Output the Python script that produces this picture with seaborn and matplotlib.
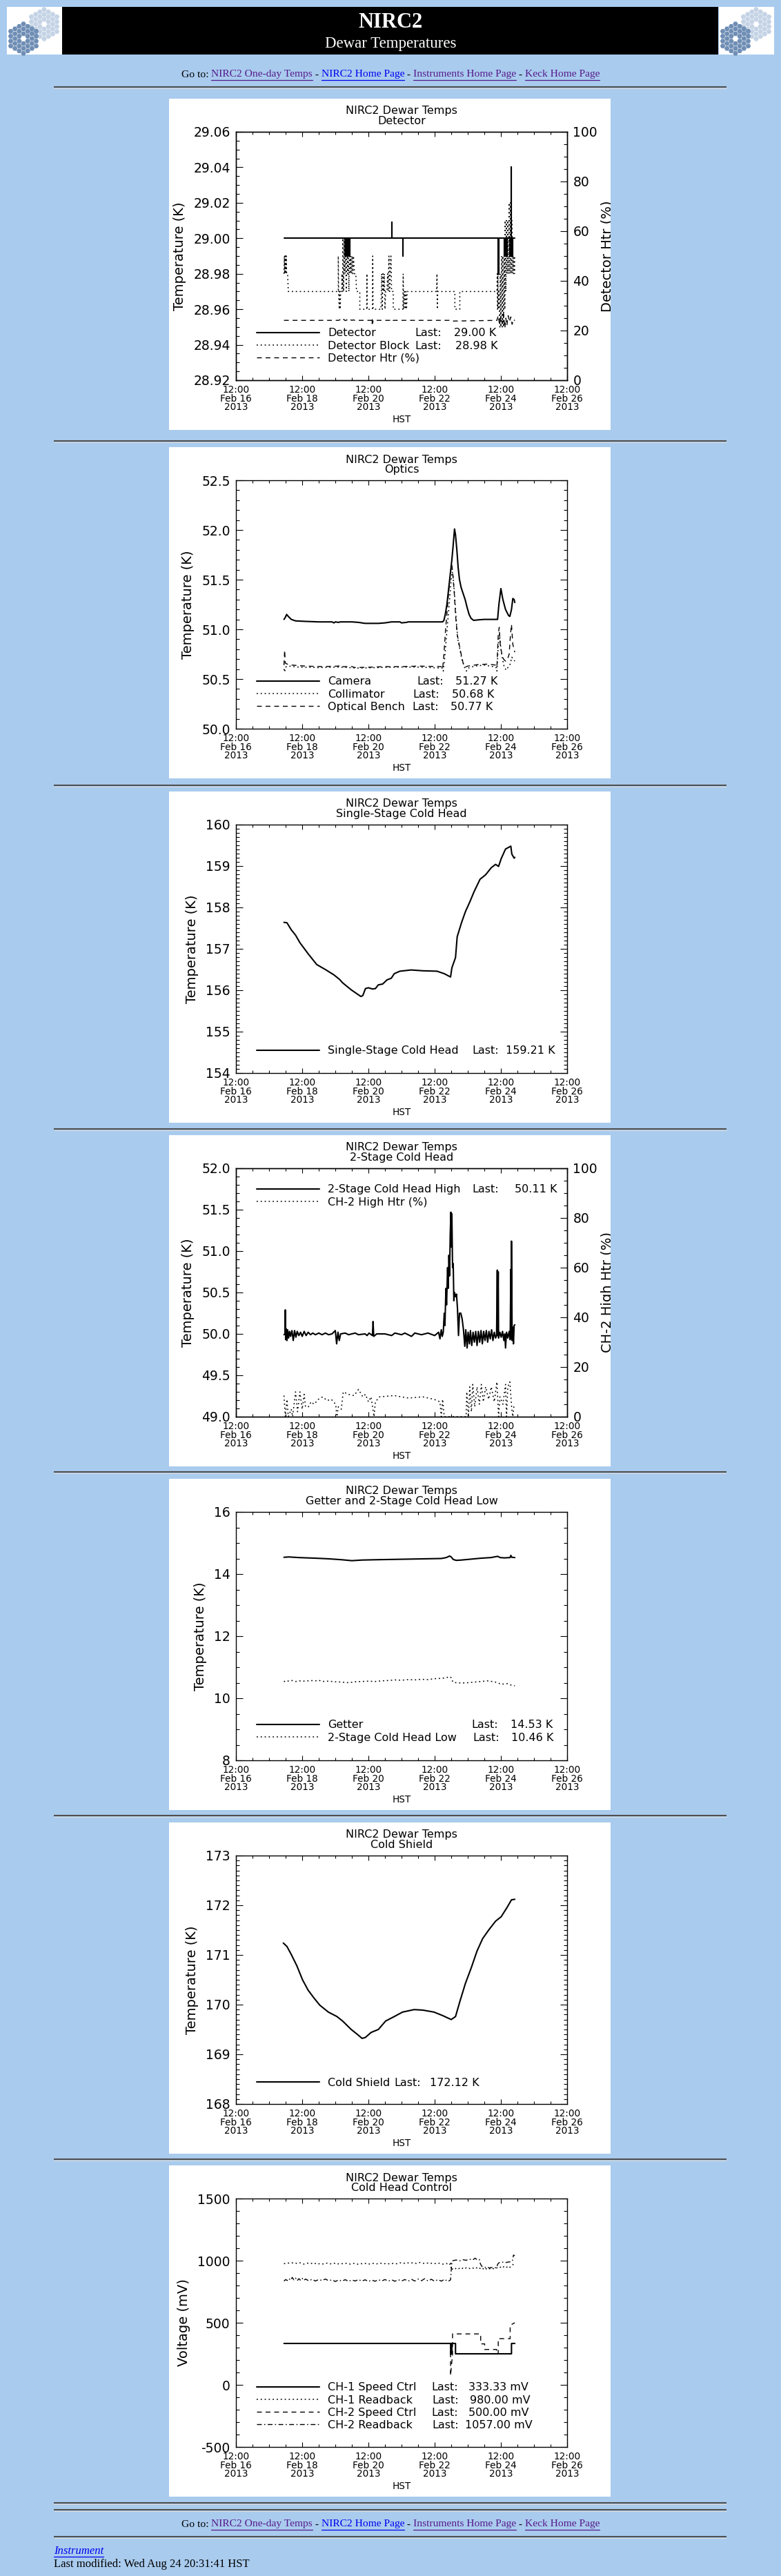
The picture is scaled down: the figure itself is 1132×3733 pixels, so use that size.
import numpy as np
import pandas as pd
import matplotlib
matplotlib.use("Agg")
import matplotlib.pyplot as plt
import seaborn as sns
from matplotlib.lines import Line2D
from matplotlib.patches import Rectangle, RegularPolygon
from matplotlib.ticker import FixedLocator, MultipleLocator, FormatStrFormatter

# ============================ DATA ============================
# x values are HST day-of-February 2013 (e.g. 17.95 = Feb 17 ~22:50)
X_TICKS = [16.5, 18.5, 20.5, 22.5, 24.5, 26.5]
X_TICK_LABELS = ["12:00\nFeb 16\n2013", "12:00\nFeb 18\n2013", "12:00\nFeb 20\n2013",
                 "12:00\nFeb 22\n2013", "12:00\nFeb 24\n2013", "12:00\nFeb 26\n2013"]

# --- chart 1: Detector ---
detector_pts = [
    (17.95, 29.00),
    (19.80, 29.00), (19.80, 28.99), (19.80, 29.00),
    (19.82, 29.00), (19.82, 28.99), (19.82, 29.00),
    (19.84, 29.00), (19.84, 28.99), (19.84, 29.00),
    (19.86, 29.00), (19.86, 28.99), (19.86, 29.00),
    (19.88, 29.00), (19.88, 28.99), (19.88, 29.00),
    (19.90, 29.00), (19.90, 28.99), (19.90, 29.00),
    (19.92, 29.00), (19.92, 28.99), (19.92, 29.00),
    (19.94, 29.00), (19.94, 28.99), (19.94, 29.00),
    (21.21, 29.00), (21.21, 29.009), (21.21, 29.00),
    (21.55, 29.00), (21.55, 28.99), (21.55, 29.00),
    (24.42, 29.00), (24.42, 28.98), (24.42, 29.00),
    (24.43, 29.00), (24.43, 28.98), (24.43, 29.00),
    (24.60, 29.00), (24.60, 28.99), (24.60, 29.00),
    (24.62, 29.00), (24.62, 28.99), (24.62, 29.00),
    (24.66, 29.00), (24.66, 28.99), (24.66, 29.00),
    (24.68, 29.00), (24.68, 28.99), (24.68, 29.00),
    (24.78, 29.00), (24.78, 28.99), (24.78, 29.00),
    (24.80, 29.00), (24.80, 28.99), (24.80, 29.00),
    (24.82, 29.00), (24.82, 29.04), (24.82, 28.99), (24.82, 29.00),
    (24.84, 29.00), (24.84, 28.99), (24.84, 29.00),
    (24.86, 29.00), (24.86, 28.99), (24.86, 29.00),
    (24.92, 29.00),
]
det_block_pts = [
    (17.95, 28.98), (17.96, 28.99), (17.97, 28.98), (17.98, 28.99), (17.99, 28.98),
    (18.00, 28.99), (18.01, 28.98), (18.02, 28.99), (18.03, 28.98), (18.06, 28.98),
    (18.08, 28.97), (19.59, 28.97), (19.59, 28.99), (19.60, 28.97), (19.62, 28.96),
    (19.63, 28.97), (19.65, 28.96), (19.66, 28.97), (19.70, 28.97), (19.70, 28.98),
    (19.72, 28.97), (19.73, 29.00), (19.75, 28.97), (19.77, 29.00), (19.79, 28.98),
    (19.81, 29.00), (19.83, 28.97), (19.85, 29.00), (19.87, 28.98), (19.89, 29.00),
    (19.91, 28.97), (19.93, 29.00), (19.95, 28.98), (19.97, 28.99), (19.99, 28.98),
    (20.01, 28.99), (20.03, 28.98), (20.05, 28.99), (20.08, 28.98), (20.12, 28.98),
    (20.14, 28.97), (20.24, 28.97), (20.24, 28.96), (20.45, 28.96), (20.455, 28.98),
    (20.46, 28.96), (20.62, 28.96), (20.63, 28.99), (20.64, 28.96), (20.88, 28.96),
    (20.90, 28.98), (20.92, 28.96), (20.94, 28.98), (20.96, 28.97), (20.98, 28.98),
    (21.00, 28.96), (21.02, 28.97), (21.06, 28.97), (21.08, 28.98), (21.10, 28.97),
    (21.12, 28.99), (21.14, 28.97), (21.16, 28.98), (21.18, 28.99), (21.20, 28.97),
    (21.25, 28.97), (21.25, 28.96), (21.54, 28.96), (21.55, 28.98), (21.56, 28.96),
    (21.59, 28.97), (21.61, 28.96), (21.63, 28.97), (21.65, 28.96), (21.67, 28.97),
    (22.56, 28.97), (22.57, 28.98), (22.58, 28.96), (22.59, 28.97), (23.11, 28.97),
    (23.11, 28.96), (23.26, 28.96), (23.26, 28.97), (24.38, 28.97), (24.39, 28.98),
    (24.40, 28.96), (24.41, 28.98), (24.42, 28.96), (24.44, 28.97), (24.47, 28.95),
    (24.48, 28.98), (24.50, 28.95), (24.52, 28.99), (24.54, 28.95), (24.56, 28.99),
    (24.58, 28.95), (24.60, 28.99), (24.62, 28.96), (24.63, 29.01), (24.65, 28.97),
    (24.67, 29.01), (24.69, 28.98), (24.71, 29.01), (24.73, 28.98), (24.75, 29.02),
    (24.77, 28.98), (24.79, 29.02), (24.81, 28.98), (24.83, 29.01), (24.85, 28.98),
    (24.87, 28.99), (24.89, 28.98), (24.91, 28.99), (24.92, 28.98),
]
det_htr_pts = [
    (17.95, 24.1), (19.60, 24.1), (19.65, 24.4), (19.70, 23.9), (19.75, 24.5),
    (19.80, 24.0), (19.85, 24.3), (19.90, 23.9), (19.95, 24.4), (20.00, 24.1),
    (20.05, 24.3), (20.10, 24.0), (20.20, 24.1), (20.60, 24.1), (20.61, 22.5),
    (20.62, 25.0), (20.63, 23.0), (20.64, 24.1), (21.20, 24.1), (21.22, 24.5),
    (21.24, 24.1), (22.95, 24.1), (22.98, 23.8), (24.38, 24.1), (24.42, 26.0),
    (24.46, 22.5), (24.50, 25.5), (24.55, 23.0), (24.58, 26.5), (24.62, 21.0),
    (24.65, 25.0), (24.68, 22.0), (24.72, 26.0), (24.76, 23.5), (24.80, 25.5),
    (24.84, 22.5), (24.88, 24.5), (24.92, 24.0),
]
c1_names = ["Detector", "Detector Block", "Detector Htr (%)"]
c1_last = ["29.00 K", "28.98 K", None]

# --- chart 2: Optics ---
camera_pts = [
    (17.95, 51.10), (17.99, 51.12), (18.03, 51.15), (18.08, 51.13), (18.17, 51.10),
    (18.30, 51.085), (18.60, 51.08), (19.00, 51.075), (19.40, 51.075), (19.46, 51.065),
    (19.50, 51.075), (19.60, 51.07), (19.65, 51.075), (20.00, 51.075), (20.20, 51.07),
    (20.40, 51.06), (20.80, 51.06), (21.00, 51.065), (21.20, 51.075), (21.45, 51.075),
    (21.50, 51.065), (21.65, 51.07), (21.70, 51.075), (22.74, 51.075), (22.78, 51.09),
    (22.82, 51.15), (22.87, 51.25), (22.92, 51.40), (22.97, 51.55), (23.02, 51.70),
    (23.06, 51.85), (23.10, 52.01), (23.13, 51.95), (23.17, 51.80), (23.21, 51.62),
    (23.25, 51.50), (23.30, 51.42), (23.36, 51.36), (23.42, 51.30), (23.48, 51.22),
    (23.54, 51.15), (23.60, 51.11), (23.68, 51.09), (23.80, 51.095), (24.00, 51.10),
    (24.20, 51.10), (24.40, 51.10), (24.44, 51.25), (24.50, 51.41), (24.56, 51.30),
    (24.64, 51.20), (24.73, 51.14), (24.77, 51.13), (24.82, 51.20), (24.86, 51.31),
    (24.90, 51.30), (24.92, 51.27),
]
collimator_pts = [
    (17.95, 50.60), (17.97, 50.57), (18.00, 50.62), (18.10, 50.63), (18.40, 50.62),
    (19.00, 50.615), (19.60, 50.62), (20.20, 50.61), (20.80, 50.615), (21.40, 50.62),
    (22.00, 50.62), (22.74, 50.61), (22.76, 50.58), (22.80, 50.70), (22.85, 50.90),
    (22.90, 51.10), (22.95, 51.30), (23.00, 51.50), (23.03, 51.58), (23.06, 51.52),
    (23.10, 51.35), (23.15, 51.10), (23.20, 50.90), (23.26, 50.80), (23.32, 50.70),
    (23.40, 50.62), (23.46, 50.58), (23.52, 50.61), (23.70, 50.63), (24.00, 50.64),
    (24.35, 50.62), (24.38, 50.58), (24.42, 50.85), (24.46, 50.95), (24.50, 50.80),
    (24.55, 50.70), (24.60, 50.62), (24.66, 50.59), (24.72, 50.62), (24.78, 50.65),
    (24.83, 50.72), (24.87, 50.70), (24.92, 50.68),
]
bench_pts = [
    (17.95, 50.64), (17.97, 50.79), (17.99, 50.66), (18.05, 50.65), (18.20, 50.64),
    (18.60, 50.63), (19.10, 50.625), (19.60, 50.63), (19.65, 50.64), (19.70, 50.625),
    (20.00, 50.625), (20.10, 50.615), (20.60, 50.62), (21.00, 50.625), (21.50, 50.625),
    (22.00, 50.63), (22.70, 50.625), (22.74, 50.60), (22.78, 50.75), (22.83, 51.00),
    (22.88, 51.20), (22.93, 51.40), (22.98, 51.58), (23.02, 51.65), (23.05, 51.55),
    (23.09, 51.38), (23.13, 51.15), (23.18, 50.95), (23.24, 50.85), (23.30, 50.75),
    (23.36, 50.66), (23.42, 50.62), (23.50, 50.63), (23.80, 50.645), (24.10, 50.65),
    (24.35, 50.64), (24.38, 50.62), (24.42, 50.95), (24.45, 51.02), (24.48, 50.85),
    (24.53, 50.75), (24.58, 50.70), (24.64, 50.68), (24.70, 50.70), (24.75, 50.75),
    (24.79, 50.95), (24.82, 51.05), (24.86, 50.85), (24.92, 50.77),
]
c2_names = ["Camera", "Collimator", "Optical Bench"]
c2_last = ["51.27 K", "50.68 K", "50.77 K"]

# --- chart 3: Single-Stage Cold Head ---
single_pts = [
    (17.95, 157.64), (18.04, 157.63), (18.17, 157.46), (18.30, 157.33), (18.43, 157.15),
    (18.68, 156.88), (18.94, 156.62), (19.20, 156.50), (19.46, 156.37), (19.63, 156.26),
    (19.72, 156.18), (19.98, 156.01), (20.27, 155.85), (20.33, 155.87), (20.41, 156.04),
    (20.50, 156.06), (20.62, 156.03), (20.71, 156.04), (20.80, 156.13), (20.93, 156.15),
    (21.06, 156.25), (21.19, 156.29), (21.28, 156.40), (21.45, 156.46), (21.79, 156.49),
    (22.14, 156.47), (22.57, 156.46), (22.79, 156.40), (22.98, 156.32), (23.02, 156.54),
    (23.13, 156.79), (23.18, 157.29), (23.31, 157.63), (23.43, 157.90), (23.56, 158.13),
    (23.69, 158.38), (23.87, 158.68), (24.04, 158.79), (24.21, 158.96), (24.34, 159.04),
    (24.43, 158.99), (24.51, 159.18), (24.64, 159.41), (24.80, 159.48), (24.83, 159.29),
    (24.90, 159.19), (24.92, 159.21),
]
c3_names = ["Single-Stage Cold Head"]
c3_last = ["159.21 K"]

# --- chart 4: 2-Stage Cold Head ---
ch_high_pts = [
    (17.95, 49.99), (17.98, 50.00), (17.99, 50.29), (18.00, 49.93), (18.02, 50.06),
    (18.04, 49.92), (18.06, 50.05), (18.09, 49.95), (18.12, 50.03), (18.15, 49.97),
    (18.19, 50.04), (18.23, 49.92), (18.27, 50.04), (18.31, 49.96), (18.35, 50.03),
    (18.40, 49.98), (18.45, 50.02), (18.50, 49.97), (18.56, 50.03), (18.62, 49.98),
    (18.68, 50.02), (18.75, 49.99), (18.82, 50.01), (18.90, 49.99), (19.00, 50.01),
    (19.10, 49.99), (19.20, 50.01), (19.30, 49.99), (19.40, 50.00), (19.50, 50.04),
    (19.54, 49.88), (19.58, 50.02), (19.62, 49.92), (19.66, 50.00), (19.80, 50.01),
    (19.90, 49.99), (20.00, 50.00), (20.10, 50.01), (20.20, 49.99), (20.40, 50.00),
    (20.46, 49.98), (20.52, 50.01), (20.62, 49.98), (20.64, 50.15), (20.66, 49.97),
    (20.75, 50.00), (21.00, 50.00), (21.20, 49.98), (21.30, 50.01), (21.50, 49.99),
    (21.60, 50.01), (21.80, 49.97), (21.90, 50.01), (22.10, 49.99), (22.30, 50.01),
    (22.50, 49.98), (22.62, 50.02), (22.66, 49.94), (22.70, 50.05), (22.73, 49.97),
    (22.76, 50.02), (22.79, 50.25), (22.81, 50.10), (22.84, 50.55), (22.86, 50.35),
    (22.89, 50.80), (22.91, 50.55), (22.93, 50.95), (22.95, 50.70), (22.97, 51.20),
    (22.99, 51.47), (23.00, 51.05), (23.02, 51.45), (23.04, 50.80), (23.06, 50.85),
    (23.08, 50.40), (23.10, 50.50), (23.13, 50.45), (23.16, 50.48), (23.19, 50.30),
    (23.22, 49.98), (23.25, 50.25), (23.29, 50.25), (23.33, 50.18), (23.37, 50.05),
    (23.41, 49.85), (23.44, 50.05), (23.48, 49.83), (23.51, 50.02), (23.55, 49.88),
    (23.58, 50.04), (23.62, 49.86), (23.66, 50.02), (23.70, 49.90), (23.74, 50.03),
    (23.78, 49.86), (23.82, 50.03), (23.86, 49.90), (23.90, 50.04), (23.94, 49.88),
    (23.98, 50.03), (24.02, 49.92), (24.06, 50.04), (24.10, 49.90), (24.14, 50.03),
    (24.18, 49.94), (24.22, 50.05), (24.26, 49.92), (24.30, 50.02), (24.34, 49.95),
    (24.37, 49.98), (24.39, 50.77), (24.40, 49.98), (24.42, 50.75), (24.43, 49.95),
    (24.47, 50.02), (24.51, 49.96), (24.55, 50.03), (24.59, 49.92), (24.62, 50.00),
    (24.64, 49.83), (24.67, 50.02), (24.71, 49.95), (24.75, 50.03), (24.78, 49.93),
    (24.80, 50.78), (24.81, 49.95), (24.82, 51.12), (24.84, 49.92), (24.86, 50.08),
    (24.88, 49.88), (24.90, 50.10), (24.92, 50.11),
]
ch_htr_pts = [
    (17.95, 8.5), (17.99, 0.0), (18.04, 7.0), (18.08, 0.0), (18.17, 3.0),
    (18.21, 0.0), (18.30, 10.0), (18.36, 2.0), (18.43, 10.0), (18.50, 3.0),
    (18.56, 9.0), (18.60, 4.0), (18.69, 4.0), (18.77, 6.0), (18.86, 5.0),
    (18.99, 7.0), (19.12, 8.0), (19.25, 6.5), (19.38, 7.0), (19.51, 5.0),
    (19.55, 0.0), (19.59, 4.0), (19.68, 3.0), (19.74, 10.0), (19.89, 9.0),
    (20.07, 8.5), (20.20, 11.0), (20.33, 8.0), (20.41, 9.0), (20.50, 6.0),
    (20.58, 8.0), (20.67, 0.0), (20.71, 6.0), (20.84, 8.0), (21.28, 8.5),
    (21.71, 7.5), (22.14, 8.0), (22.48, 7.0), (22.66, 6.0), (22.70, 0.0),
    (22.74, 7.0), (22.79, 0.0), (23.45, 0.0), (23.47, 10.0), (23.52, 0.0),
    (23.56, 12.0), (23.61, 2.0), (23.65, 13.0), (23.71, 4.0), (23.78, 12.0),
    (23.85, 5.0), (23.91, 13.0), (23.97, 6.0), (24.04, 12.0), (24.13, 7.0),
    (24.21, 12.0), (24.30, 6.0), (24.38, 14.0), (24.43, 0.0), (24.47, 8.0),
    (24.56, 5.0), (24.64, 13.0), (24.67, 0.0), (24.71, 12.0), (24.77, 14.0),
    (24.83, 3.0), (24.86, 0.0), (24.90, 5.0),
]
c4_names = ["2-Stage Cold Head High", "CH-2 High Htr (%)"]
c4_last = ["50.11 K", None]

# --- chart 5: Getter and 2-Stage Cold Head Low ---
getter_pts = [
    (17.95, 14.54), (18.10, 14.55), (18.40, 14.53), (18.90, 14.51), (19.30, 14.49),
    (19.70, 14.46), (20.00, 14.43), (20.30, 14.45), (20.70, 14.46), (21.20, 14.47),
    (21.70, 14.48), (22.20, 14.49), (22.70, 14.50), (22.85, 14.53), (22.95, 14.58),
    (23.00, 14.55), (23.06, 14.47), (23.15, 14.44), (23.30, 14.45), (23.60, 14.48),
    (23.90, 14.51), (24.20, 14.53), (24.40, 14.57), (24.48, 14.53), (24.60, 14.52),
    (24.78, 14.53), (24.80, 14.60), (24.83, 14.54), (24.92, 14.53),
]
low_pts = [
    (17.95, 10.53), (18.00, 10.57), (18.10, 10.55), (18.20, 10.57), (18.30, 10.54),
    (18.45, 10.56), (18.60, 10.55), (18.75, 10.57), (18.90, 10.56), (19.00, 10.58),
    (19.10, 10.54), (19.30, 10.55), (19.50, 10.53), (19.70, 10.52), (19.90, 10.50),
    (20.10, 10.53), (20.30, 10.54), (20.50, 10.55), (20.70, 10.54), (20.90, 10.56),
    (21.10, 10.57), (21.30, 10.59), (21.50, 10.58), (21.70, 10.60), (21.90, 10.59),
    (22.10, 10.61), (22.30, 10.60), (22.50, 10.63), (22.70, 10.64), (22.85, 10.66),
    (22.95, 10.70), (23.00, 10.66), (23.05, 10.52), (23.15, 10.50), (23.30, 10.49),
    (23.50, 10.50), (23.70, 10.52), (23.90, 10.54), (24.10, 10.56), (24.30, 10.53),
    (24.40, 10.50), (24.50, 10.45), (24.60, 10.46), (24.70, 10.47), (24.78, 10.43),
    (24.85, 10.42), (24.92, 10.40),
]
c5_names = ["Getter", "2-Stage Cold Head Low"]
c5_last = ["14.53 K", "10.46 K"]

# --- chart 6: Cold Shield ---
shield_pts = [
    (17.93, 171.24), (18.04, 171.17), (18.17, 171.01), (18.34, 170.78), (18.51, 170.50),
    (18.68, 170.29), (18.86, 170.13), (19.03, 169.99), (19.29, 169.85), (19.55, 169.76),
    (19.72, 169.67), (19.98, 169.50), (20.15, 169.41), (20.31, 169.32), (20.41, 169.34),
    (20.58, 169.44), (20.80, 169.50), (21.02, 169.67), (21.28, 169.76), (21.53, 169.85),
    (21.88, 169.90), (22.14, 169.89), (22.48, 169.85), (22.74, 169.78), (23.00, 169.70),
    (23.13, 169.76), (23.26, 170.06), (23.43, 170.43), (23.61, 170.75), (23.78, 171.08),
    (23.95, 171.33), (24.13, 171.50), (24.34, 171.68), (24.51, 171.77), (24.69, 171.96),
    (24.82, 172.11), (24.92, 172.12),
]
c6_names = ["Cold Shield"]
c6_last = ["172.12 K"]

# --- chart 7: Cold Head Control (mV) ---
ch1_speed_pts = [
    (17.95, 333.33), (22.99, 333.33), (22.99, 245.0), (23.00, 333.33), (23.01, 250.0),
    (23.02, 333.33), (23.13, 333.33), (23.13, 250.0), (24.82, 250.0), (24.82, 333.33),
    (24.92, 333.33),
]
ch2_speed_pts = [
    (22.98, 330.0), (22.98, 75.0), (23.04, 250.0), (23.04, 410.0), (23.89, 410.0),
    (23.89, 330.0), (24.01, 330.0), (24.01, 285.0), (24.37, 285.0), (24.37, 250.0),
    (24.42, 250.0), (24.42, 372.0), (24.78, 372.0), (24.78, 480.0), (24.92, 500.0),
]
ch1_read_pts = [
    (17.95, 975), (18.05, 982), (18.15, 978), (18.25, 985), (18.35, 976), (18.45, 983),
    (18.55, 972), (18.65, 980), (18.75, 975), (18.85, 983), (18.95, 970), (19.05, 978),
    (19.15, 972), (19.25, 980), (19.35, 974), (19.45, 981), (19.55, 971), (19.65, 979),
    (19.75, 973), (19.85, 980), (19.95, 972), (20.05, 978), (20.15, 970), (20.25, 977),
    (20.35, 973), (20.45, 980), (20.55, 971), (20.65, 978), (20.75, 974), (20.85, 981),
    (20.95, 973), (21.05, 979), (21.15, 972), (21.25, 978), (21.35, 975), (21.45, 983),
    (21.55, 976), (21.65, 985), (21.75, 978), (21.85, 984), (21.95, 977), (22.05, 985),
    (22.15, 978), (22.25, 983), (22.35, 975), (22.45, 982), (22.55, 974), (22.65, 980),
    (22.75, 972), (22.85, 978), (22.95, 965), (22.99, 990), (23.00, 925), (23.05, 935),
    (23.10, 928), (23.15, 940), (23.20, 932), (23.25, 938), (23.30, 930), (23.35, 940),
    (23.40, 933), (23.45, 942), (23.50, 935), (23.55, 938), (23.60, 932), (23.65, 940),
    (23.70, 936), (23.75, 945), (23.80, 935), (23.85, 942), (23.90, 930), (23.95, 938),
    (24.00, 925), (24.05, 935), (24.10, 928), (24.15, 936), (24.20, 930), (24.25, 938),
    (24.30, 932), (24.35, 937), (24.40, 945), (24.45, 940), (24.50, 950), (24.55, 942),
    (24.60, 955), (24.65, 945), (24.70, 950), (24.75, 940), (24.80, 955), (24.85, 965),
    (24.92, 980),
]
ch2_read_pts = [
    (17.95, 835), (18.00, 848), (18.05, 840), (18.10, 856), (18.15, 842), (18.20, 865),
    (18.25, 845), (18.30, 860), (18.35, 838), (18.40, 855), (18.45, 842), (18.50, 858),
    (18.55, 840), (18.60, 852), (18.70, 838), (18.80, 850), (18.90, 836), (19.00, 848),
    (19.10, 840), (19.20, 852), (19.30, 838), (19.40, 846), (19.50, 832), (19.60, 845),
    (19.70, 835), (19.80, 847), (19.90, 833), (20.00, 845), (20.10, 836), (20.20, 848),
    (20.30, 835), (20.40, 846), (20.50, 832), (20.60, 844), (20.70, 834), (20.80, 847),
    (20.90, 836), (21.00, 848), (21.10, 835), (21.20, 846), (21.30, 834), (21.40, 847),
    (21.50, 836), (21.60, 848), (21.70, 835), (21.80, 850), (21.90, 836), (22.00, 852),
    (22.10, 838), (22.20, 855), (22.30, 836), (22.40, 850), (22.50, 834), (22.60, 848),
    (22.70, 835), (22.80, 850), (22.90, 832), (22.98, 845), (23.00, 920), (23.02, 985),
    (23.05, 1000), (23.15, 1005), (23.25, 998), (23.35, 1008), (23.45, 1003), (23.55, 1012),
    (23.65, 1005), (23.72, 1020), (23.78, 1008), (23.85, 1010), (23.88, 975), (23.92, 955),
    (24.00, 950), (24.05, 942), (24.10, 948), (24.15, 940), (24.20, 945), (24.30, 942),
    (24.38, 945), (24.40, 970), (24.45, 985), (24.55, 988), (24.65, 985), (24.75, 990),
    (24.80, 990), (24.85, 1000), (24.88, 1045), (24.92, 1040),
]
c7_names = ["CH-1 Speed Ctrl", "CH-1 Readback", "CH-2 Speed Ctrl", "CH-2 Readback"]
c7_last = ["333.33 mV", "980.00 mV", "500.00 mV", "1057.00 mV"]

# ============================ STYLE ============================
sns.set_style("ticks")
plt.rcParams['font.family'] = ['DejaVu Sans']
plt.rcParams['axes.edgecolor'] = 'black'
plt.rcParams['text.color'] = 'black'
plt.rcParams['axes.labelcolor'] = 'black'
plt.rcParams['xtick.color'] = 'black'
plt.rcParams['ytick.color'] = 'black'

W, H = 1132, 3733
BG = '#a9cbee'
SERIF = ['Liberation Serif', 'DejaVu Serif']
TITLE_FS = 11.5
TICK_FS = 13.5
XTICK_FS = 9.8
YLAB_FS = 14
LEG_FS = 11.5

SOLID = dict(linestyle='-', linewidth=1.5)
DOT = dict(linestyle=(0, (1.2, 2.6)), linewidth=1.1)
DASH = dict(linestyle=(0, (5, 4)), linewidth=1.0)
DASHDOT = dict(linestyle=(0, (5, 2.5, 1.2, 2.5)), linewidth=1.0)

fig = plt.figure(figsize=(W / 100, H / 100), dpi=100)
fig.patch.set_facecolor(BG)
page = fig.add_axes([0, 0, 1, 1])
page.set_xlim(0, W)
page.set_ylim(H, 0)
page.axis('off')
renderer = fig.canvas.get_renderer()

# ---------------- header ----------------
page.add_patch(Rectangle((90, 10), 951, 69, color='black', lw=0))
page.text(566, 33, 'NIRC2', ha='center', va='center', color='white',
          fontsize=22, fontweight='bold', family=SERIF)
page.text(566, 63, 'Dewar Temperatures', ha='center', va='center', color='white',
          fontsize=16.5, family=SERIF)


def draw_logo(x0):
    page.add_patch(Rectangle((x0, 10), 80, 69, color='white', lw=0))
    for cx, cy, col in [(x0 + 54, 35, '#c4d3e5'), (x0 + 24, 56, '#6f8eb5')]:
        for q in range(-3, 4):
            for r in range(-3, 4):
                d = max(abs(q), abs(r), abs(q + r))
                if d == 0 or d > 3:
                    continue
                hx = cx + 1.5 * 4.1 * q
                hy = cy + 1.732 * 4.1 * (r + q / 2)
                if hy > 78.5:
                    continue
                page.add_patch(RegularPolygon((hx, hy), 6, radius=3.8,
                                              orientation=np.pi / 6, color=col, lw=0))


draw_logo(10)
draw_logo(1042)


def hrule(y):
    page.plot([78, 1053], [y, y], color='#4f4f4f', lw=1.5, solid_capstyle='butt')
    page.plot([78, 1053], [y + 1.6, y + 1.6], color='#d9d9d9', lw=0.8, solid_capstyle='butt')


def goto_line(y):
    parts = [("Go to: ", 'black', False), ("NIRC2 One-day Temps", '#551a8b', True),
             (" - ", 'black', False), ("NIRC2 Home Page", '#0000ee', True),
             (" - ", 'black', False), ("Instruments Home Page", '#551a8b', True),
             (" - ", 'black', False), ("Keck Home Page", '#551a8b', True)]
    texts = [page.text(0, y, s, color=c, fontsize=12, family=SERIF, va='center', ha='left')
             for s, c, u in parts]
    widths = [t.get_window_extent(renderer).width for t in texts]
    scale = 605.0 / sum(widths)
    for t in texts:
        t.set_fontsize(12 * scale)
    widths = [t.get_window_extent(renderer).width for t in texts]
    x = 566 - sum(widths) / 2
    for (s, c, u), t, w in zip(parts, texts, widths):
        t.set_x(x)
        if u:
            page.plot([x, x + w], [y + 8, y + 8], color=c, lw=0.9)
        x += w


goto_line(108)
for yy in [126, 639, 1138, 1636, 2133, 2631, 3129, 3627, 3637, 3676]:
    hrule(yy)
goto_line(3658)
t_inst = page.text(78, 3697, 'Instrument', color='#0000ee', fontsize=12, style='italic',
                   family=SERIF, va='center', ha='left')
w_inst = t_inst.get_window_extent(renderer).width
page.plot([78, 78 + w_inst], [3705, 3705], color='#0000ee', lw=0.9)
page.text(78, 3716, 'Last modified: Wed Aug 24 20:31:41 HST', color='black', fontsize=12,
          family=SERIF, va='center', ha='left')

# ---------------- charts ----------------
PANEL_TOPS = [143, 648, 1147, 1645, 2143, 2641, 3138]
PX, PW, PH = 245, 640, 480
AX_L, AX_T, AX_W, AX_H = 97, 48, 480, 360


def unzip(pts):
    return [p[0] for p in pts], [p[1] for p in pts]


def make_chart(top, subtitle):
    pax = fig.add_axes([PX / W, 1 - (top + PH) / H, PW / W, PH / H])
    pax.set_xlim(0, PW)
    pax.set_ylim(PH, 0)
    pax.set_facecolor('white')
    pax.set_xticks([])
    pax.set_yticks([])
    for s in pax.spines.values():
        s.set_visible(False)
    pax.text(337, 18, 'NIRC2 Dewar Temps', ha='center', va='center', fontsize=TITLE_FS)
    pax.text(337, 32.5, subtitle, ha='center', va='center', fontsize=TITLE_FS)
    ax = fig.add_axes([(PX + AX_L) / W, 1 - (top + AX_T + AX_H) / H, AX_W / W, AX_H / H])
    ax.set_facecolor('none')
    return pax, ax


def style_axes(ax, ylim, ymaj, ymin, yfmt, ylabel, twin=False):
    ax.set_xlim(16.5, 26.5)
    ax.set_ylim(*ylim)
    ax.set_xticks(X_TICKS, labels=X_TICK_LABELS)
    ax.xaxis.set_minor_locator(MultipleLocator(0.5))
    ax.yaxis.set_major_locator(MultipleLocator(ymaj))
    ax.yaxis.set_minor_locator(MultipleLocator(ymin))
    ax.yaxis.set_major_formatter(FormatStrFormatter(yfmt))
    ax.tick_params(which='both', direction='in', top=True, bottom=True, left=True,
                   right=not twin, width=0.8, color='black')
    ax.tick_params(axis='y', which='major', length=9.6 * 0.72, labelsize=TICK_FS, pad=6)
    ax.tick_params(axis='y', which='minor', length=4.8 * 0.72)
    ax.tick_params(axis='x', which='major', length=7.2 * 0.72, labelsize=XTICK_FS, pad=5)
    ax.tick_params(axis='x', which='minor', length=3.6 * 0.72)
    for lbl in ax.get_xticklabels():
        lbl.set_linespacing(0.88)
    for s in ax.spines.values():
        s.set_visible(True)
        s.set_color('black')
        s.set_linewidth(1.0)
    ax.set_ylabel(ylabel, fontsize=YLAB_FS, labelpad=7)
    ax.set_xlabel('HST', fontsize=XTICK_FS, labelpad=3)
    ax.grid(False)


def style_right(ax2, pax, label):
    ax2.set_ylim(0, 100)
    ax2.yaxis.set_major_locator(MultipleLocator(20))
    ax2.yaxis.set_minor_locator(MultipleLocator(5))
    ax2.tick_params(which='both', direction='in', right=True, left=False, width=0.8, color='black')
    ax2.tick_params(axis='y', which='major', length=9.6 * 0.72, labelsize=TICK_FS, pad=6)
    ax2.tick_params(axis='y', which='minor', length=4.8 * 0.72)
    ax2.set_ylabel('')
    ax2.set_xlabel('')
    for s in ax2.spines.values():
        s.set_linewidth(1.0)
        s.set_color('black')
    pax.text(626, 228, label, rotation=90, ha='left', va='center',
             fontsize=YLAB_FS, clip_on=True)


def line(ax, pts, st):
    xs, ys = unzip(pts)
    sns.lineplot(x=xs, y=ys, ax=ax, sort=False, estimator=None, color='black', **st)


legends = []


def add_legend(ax, names, lasts, styles, y_rows, last_px, val_px):
    handles = [Line2D([0], [0], color='black', **st) for st in styles]
    probe = ax.text(0, 0, 'Dg', fontsize=LEG_FS)
    h = probe.get_window_extent(renderer).height
    probe.remove()
    fs_px = LEG_FS / 72 * 100
    spacing = (18.2 - h) / fs_px
    leg = ax.legend(handles, names, loc='upper left', bbox_to_anchor=(0.0625, y_rows[0] + 0.03),
                    bbox_transform=ax.transAxes, frameon=False, borderpad=0, borderaxespad=0,
                    handlelength=91 / fs_px, handletextpad=12 / fs_px, labelspacing=spacing,
                    fontsize=LEG_FS)
    legends.append((ax, leg, y_rows, lasts, last_px, val_px))


def ax_frac(px_perceived):
    return (px_perceived - 247) / 1158.0


# Chart 1
pax, ax = make_chart(PANEL_TOPS[0], 'Detector')
line(ax, detector_pts, SOLID)
line(ax, det_block_pts, DOT)
style_axes(ax, (28.92, 29.06), 0.02, 0.005, '%.2f', 'Temperature (K)', twin=True)
ax2 = ax.twinx()
line(ax2, det_htr_pts, DASH)
style_right(ax2, pax, 'Detector Htr (%)')
add_legend(ax2, c1_names, c1_last, [SOLID, DOT, DASH], [0.189, 0.139, 0.089],
           [873, 873, None], [1010, 1015, None])

# Chart 2
pax, ax = make_chart(PANEL_TOPS[1], 'Optics')
line(ax, camera_pts, SOLID)
line(ax, collimator_pts, DOT)
line(ax, bench_pts, DASH)
style_axes(ax, (50.0, 52.5), 0.5, 0.1, '%.1f', 'Temperature (K)')
add_legend(ax, c2_names, c2_last, [SOLID, DOT, DASH], [0.189, 0.136, 0.086],
           [880, 865, 862], [1015, 1003, 998])

# Chart 3
pax, ax = make_chart(PANEL_TOPS[2], 'Single-Stage Cold Head')
line(ax, single_pts, SOLID)
style_axes(ax, (154, 160), 1, 0.1, '%d', 'Temperature (K)')
add_legend(ax, c3_names, c3_last, [SOLID], [0.089], [1073], [1190])

# Chart 4
pax, ax = make_chart(PANEL_TOPS[3], '2-Stage Cold Head')
line(ax, ch_high_pts, SOLID)
style_axes(ax, (49.0, 52.0), 0.5, 0.1, '%.1f', 'Temperature (K)', twin=True)
ax2 = ax.twinx()
line(ax2, ch_htr_pts, DOT)
style_right(ax2, pax, 'CH-2 High Htr (%)')
add_legend(ax2, c4_names, c4_last, [SOLID, DOT], [0.914, 0.861], [1073, None], [1222, None])

# Chart 5
pax, ax = make_chart(PANEL_TOPS[4], 'Getter and 2-Stage Cold Head Low')
line(ax, getter_pts, SOLID)
line(ax, low_pts, DOT)
style_axes(ax, (8, 16), 2, 0.5, '%d', 'Temperature (K)')
add_legend(ax, c5_names, c5_last, [SOLID, DOT], [0.142, 0.092], [1070, 1075], [1208, 1210])

# Chart 6
pax, ax = make_chart(PANEL_TOPS[5], 'Cold Shield')
line(ax, shield_pts, SOLID)
style_axes(ax, (168, 173), 1, 0.1, '%d', 'Temperature (K)')
add_legend(ax, c6_names, c6_last, [SOLID], [0.086], [800], [925])

# Chart 7
pax, ax = make_chart(PANEL_TOPS[6], 'Cold Head Control')
line(ax, ch1_speed_pts, SOLID)
line(ax, ch1_read_pts, DOT)
line(ax, ch2_speed_pts, DASH)
line(ax, ch2_read_pts, DASHDOT)
style_axes(ax, (-500, 1500), 500, 100, '%d', 'Voltage (mV)')
add_legend(ax, c7_names, c7_last, [SOLID, DOT, DASH, DASHDOT], [0.239, 0.189, 0.136, 0.089],
           [930, 932, 930, 932], [1060, 1065, 1060, 1048])

# ---- align legend rows and add the "Last:" columns ----
fig.canvas.draw()
for ax, leg, y_rows, lasts, last_px, val_px in legends:
    bb = leg.get_texts()[0].get_window_extent(renderer)
    cy = (bb.y0 + bb.y1) / 2
    target = ax.transAxes.transform((0, y_rows[0]))[1]
    shift = (target - cy) / ax.bbox.height
    leg.set_bbox_to_anchor((0.0625, y_rows[0] + 0.03 + shift), transform=ax.transAxes)
fig.canvas.draw()
for ax, leg, y_rows, lasts, last_px, val_px in legends:
    for txt, last, lx, vx in zip(leg.get_texts(), lasts, last_px, val_px):
        if last is None:
            continue
        bb = txt.get_window_extent(renderer)
        cy = (bb.y0 + bb.y1) / 2
        ya = ax.transAxes.inverted().transform((0, cy))[1]
        ax.text(ax_frac(lx), ya, 'Last:', transform=ax.transAxes, va='center', ha='left',
                fontsize=LEG_FS)
        ax.text(ax_frac(vx), ya, last, transform=ax.transAxes, va='center', ha='left',
                fontsize=LEG_FS)

fig.savefig('out.png', dpi=100, facecolor=fig.get_facecolor())
